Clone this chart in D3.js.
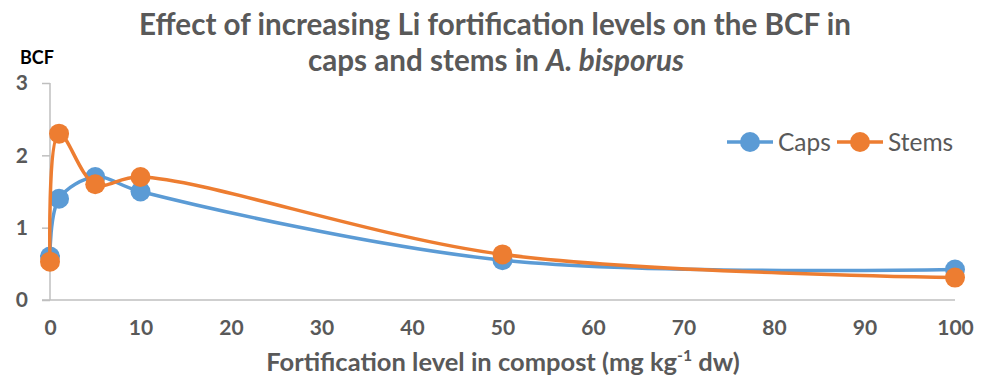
<!DOCTYPE html>
<html>
<head>
<meta charset="utf-8">
<script src="https://cdn.jsdelivr.net/npm/d3@7"></script>
<style>
  body { margin: 0; background: #fff; }
  svg { display: block; font-family: Lato, "Open Sans", sans-serif; }
</style>
</head>
<body>
<svg id="chart"></svg>
<script>
// fortification levels (mg/kg dw)
const levels = [0, 1, 5, 10, 50, 100]
const caps = [0.6, 1.4, 1.7, 1.5, 0.55, 0.42]
const stems = [0.53, 2.3, 1.6, 1.7, 0.63, 0.31]
const seriesNames = ['Caps', 'Stems']
const xTicks = [0, 10, 20, 30, 40, 50, 60, 70, 80, 90, 100]
const yTicks = [0, 1, 2, 3]

const width = 986, height = 381
const colors = ['#5b9bd5', '#ed7d31']
const textGray = '#595959'

const svg = d3.select('#chart')
    .attr('width', width)
    .attr('height', height)

const x = d3.scaleLinear().domain([0, 100]).range([50, 955])
const y = d3.scaleLinear().domain([0, 3]).range([300, 83])

// scale a text's font size so it spans roughly the wanted width
const fitFont = (sel, base, target) => {
    sel.attr('font-size', base)
    const w = sel.node().getComputedTextLength()
    sel.attr('font-size', (base * target / w).toFixed(1))
}

// title
const t1 = svg.append('text')
    .attr('x', 495).attr('y', 35)
    .attr('fill', textGray)
    .attr('font-weight', 'bold')
    .attr('text-anchor', 'middle')
    .text('Effect of increasing Li fortification levels on the BCF in')
fitFont(t1, 24, 712)

const t2 = svg.append('text')
    .attr('x', 496).attr('y', 71)
    .attr('fill', textGray)
    .attr('font-weight', 'bold')
    .attr('text-anchor', 'middle')
t2.append('tspan').text('caps and stems in ')
t2.append('tspan').attr('font-style', 'italic').text('A. bisporus')
t2.attr('font-size', t1.attr('font-size'))

// y axis
const yAxis = svg.append('g')
    .attr('transform', 'translate(50,0)')
    .call(d3.axisLeft(y).tickValues(yTicks).tickSize(8).tickPadding(14).tickFormat(d3.format('d')))
yAxis.select('.domain').attr('stroke', '#bfbfbf').attr('stroke-width', 1.5).attr('d', 'M0,83V300')
yAxis.selectAll('.tick line').attr('stroke', '#bfbfbf').attr('stroke-width', 1.5)
yAxis.selectAll('.tick text')
    .attr('fill', textGray)
    .attr('font-size', 21)
    .attr('font-weight', 'bold')
    .attr('font-family', 'Lato, sans-serif')

// x axis
const xAxis = svg.append('g')
    .attr('transform', 'translate(0,300)')
    .call(d3.axisBottom(x).tickValues(xTicks).tickSize(0).tickPadding(16).tickFormat(d3.format('d')))
xAxis.select('.domain').attr('stroke', '#bfbfbf').attr('stroke-width', 1.5).attr('d', 'M42,0H955')
xAxis.selectAll('.tick text')
    .attr('fill', textGray)
    .attr('font-size', 21)
    .attr('font-weight', 'bold')
    .attr('font-family', 'Lato, sans-serif')
    .attr('dy', '0.9em')

// axis titles
svg.append('text')
    .attr('x', 20).attr('y', 64)
    .attr('font-size', 18)
    .attr('font-weight', 'bold')
    .attr('fill', '#000')
    .text('BCF')

const xt = svg.append('text')
    .attr('x', 503).attr('y', 371)
    .attr('text-anchor', 'middle')
    .attr('font-weight', 'bold')
    .attr('fill', textGray)
xt.append('tspan').text('Fortification level in compost (mg kg')
const sup = xt.append('tspan').attr('dy', -10).text('-1')
xt.append('tspan').attr('dy', 10).text(' dw)')
fitFont(xt, 23, 482)
sup.attr('font-size', (+xt.attr('font-size') * 0.62).toFixed(1))

// series
const line = d3.line()
    .x(d => x(d[0]))
    .y(d => y(d[1]))
    .curve(d3.curveCatmullRom.alpha(0.5))

;[caps, stems].forEach((vals, i) => {
    const pts = levels.map((l, j) => [l, vals[j]])
    const g = svg.append('g')
    g.append('path')
        .attr('d', line(pts))
        .attr('fill', 'none')
        .attr('stroke', colors[i])
        .attr('stroke-width', 3.5)
    g.selectAll('circle')
        .data(pts)
        .join('circle')
        .attr('cx', d => x(d[0]))
        .attr('cy', d => y(d[1]))
        .attr('r', 10)
        .attr('fill', colors[i])
})

// legend
const legend = svg.append('g')
const legendX = [727, 837]
seriesNames.forEach((name, i) => {
    const lg = legend.append('g').attr('transform', `translate(${legendX[i]},142)`)
    lg.append('line').attr('x1', 0).attr('x2', 46)
        .attr('stroke', colors[i]).attr('stroke-width', 3.5)
    lg.append('circle').attr('cx', 23).attr('r', 10).attr('fill', colors[i])
    lg.append('text')
        .attr('x', 51).attr('y', 8.5)
        .attr('font-size', 24.5)
        .attr('fill', textGray)
        .text(name)
})
</script>
</body>
</html>
